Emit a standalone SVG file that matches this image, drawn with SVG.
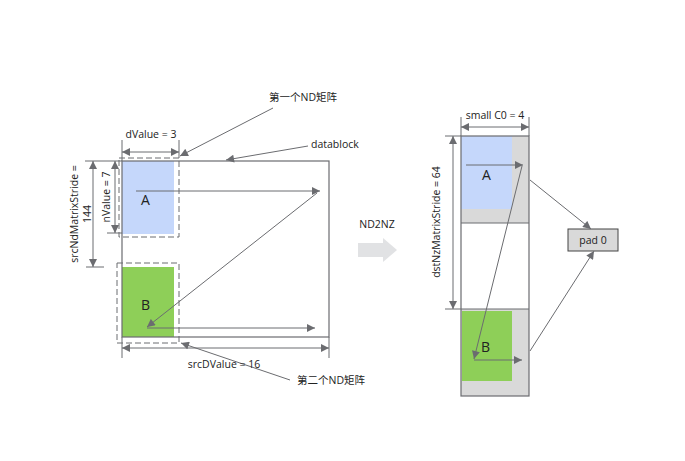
<svg xmlns="http://www.w3.org/2000/svg" width="685" height="461" viewBox="0 0 685 461">
<defs>
<marker id="ah" viewBox="0 0 10 10" refX="10" refY="5" markerWidth="9" markerHeight="8" markerUnits="userSpaceOnUse" orient="auto-start-reverse">
<path d="M0,0 L10,5 L0,10 z" fill="#6b6c70"/>
</marker>
<style>
.t{font-family:"Open Sans","Noto Sans","Noto Sans CJK SC",sans-serif;font-size:10.5px;fill:#222}
.big{font-family:"Open Sans","Noto Sans",sans-serif;font-size:14px;fill:#222}
.ln{stroke:#6b6c70;stroke-width:1;fill:none}
.ar{stroke:#6b6c70;stroke-width:1;fill:none;marker-end:url(#ah)}
.da{stroke:#6b6c70;stroke-width:1;fill:none;marker-start:url(#ah);marker-end:url(#ah)}
.dash{stroke:#6b6c70;stroke-width:1;fill:none;stroke-dasharray:6,3}
.box{stroke:#6b6c70;stroke-width:1.2;fill:none}
</style>
</defs>
<rect width="685" height="461" fill="#fff"/>

<g id="blockA_fill"><rect x="122" y="161" width="52" height="73" fill="#c5d7fb"/></g>
<g id="blockB_fill"><rect x="122" y="267" width="52" height="70" fill="#8ecf58"/></g>

<g id="datablock">
<rect class="box" x="122" y="161" width="207" height="176"/>
</g>
<g id="ndA">
<rect class="dash" x="119" y="158" width="60" height="79"/>
<text class="big" x="141" y="205">A</text>
</g>
<g id="ndB">
<rect class="dash" x="117" y="263" width="62" height="80"/>
<text class="big" x="141" y="310">B</text>
</g>

<g id="nz">
<rect x="461" y="136" width="68" height="87" fill="#d9d9d9"/>
<rect x="461" y="136" width="51" height="73" fill="#c5d7fb"/>
<rect x="461" y="309" width="68" height="87" fill="#d9d9d9"/>
<rect x="462" y="311" width="50" height="70" fill="#8ecf58"/>
<rect class="box" x="461" y="136" width="68" height="260"/>
<line class="ln" x1="461" y1="223" x2="529" y2="223"/>
<line class="ln" x1="461" y1="309" x2="529" y2="309"/>
<text class="big" x="482" y="180">A</text>
<text class="big" x="481" y="352">B</text>
</g>

<g id="pad0">
<rect x="568" y="229" width="50" height="22" fill="#d9d9d9" stroke="#444" stroke-width="1"/>
<text class="t" x="593" y="244" text-anchor="middle">pad 0</text>
</g>

<g id="nd2nz">
<text class="t" x="377" y="228" text-anchor="middle">ND2NZ</text>
<path d="M358,243 L383,243 L383,238 L397,250 L383,262 L383,257 L358,257 z" fill="#e1e2e4"/>
</g>

<g id="connectors">
<line class="ln" x1="122" y1="140" x2="122" y2="161"/>
<line class="ln" x1="179" y1="140" x2="179" y2="158"/>
<line class="da" x1="122" y1="152" x2="179" y2="152"/>
<line class="ln" x1="122" y1="337" x2="122" y2="358"/>
<line class="ln" x1="329" y1="337" x2="329" y2="358"/>
<line class="da" x1="122" y1="348" x2="329" y2="348"/>
<line class="ln" x1="85" y1="161" x2="122" y2="161"/>
<line class="ln" x1="86" y1="267" x2="104" y2="267"/>
<line class="da" x1="93" y1="161" x2="93" y2="267"/>
<line class="ln" x1="107" y1="233" x2="122" y2="233"/>
<line class="da" x1="115" y1="161" x2="115" y2="233"/>
<line class="ar" x1="136" y1="191" x2="320" y2="191"/>
<line class="ar" x1="317" y1="193" x2="147" y2="327"/>
<line class="ar" x1="147" y1="328" x2="315" y2="328"/>
<line class="ar" x1="273" y1="108" x2="180" y2="156"/>
<line class="ar" x1="308" y1="146" x2="226" y2="160"/>
<line class="ar" x1="290" y1="380" x2="181" y2="343"/>
<line class="ln" x1="461" y1="117" x2="461" y2="136"/>
<line class="ln" x1="529" y1="117" x2="529" y2="136"/>
<line class="da" x1="461" y1="127" x2="529" y2="127"/>
<line class="ln" x1="445" y1="136" x2="461" y2="136"/>
<line class="ln" x1="445" y1="309" x2="461" y2="309"/>
<line class="da" x1="453" y1="136" x2="453" y2="309"/>
<line class="ar" x1="466" y1="165" x2="523" y2="165"/>
<line class="ar" x1="522" y1="166" x2="474" y2="359"/>
<line class="ar" x1="474" y1="360" x2="522" y2="360"/>
<line class="ar" x1="530" y1="180" x2="591" y2="229"/>
<line class="ar" x1="530" y1="351" x2="594" y2="251"/>
</g>

<g id="labels">
<text class="t" x="151" y="138" text-anchor="middle">dValue = 3</text>
<text class="t" x="224" y="368" text-anchor="middle">srcDValue = 16</text>
<text class="t" x="269" y="101">第一个ND矩阵</text>
<text class="t" x="311" y="148">datablock</text>
<text class="t" x="297" y="384">第二个ND矩阵</text>
<text class="t" x="495" y="119" text-anchor="middle">small C0 = 4</text>
<text class="t" transform="translate(78,214) rotate(-90)" text-anchor="middle">srcNdMatrixStride =</text>
<text class="t" transform="translate(91,214) rotate(-90)" text-anchor="middle">144</text>
<text class="t" transform="translate(110,197) rotate(-90)" text-anchor="middle">nValue = 7</text>
<text class="t" transform="translate(440,222) rotate(-90)" text-anchor="middle">dstNzMatrixStride = 64</text>
</g>
</svg>
